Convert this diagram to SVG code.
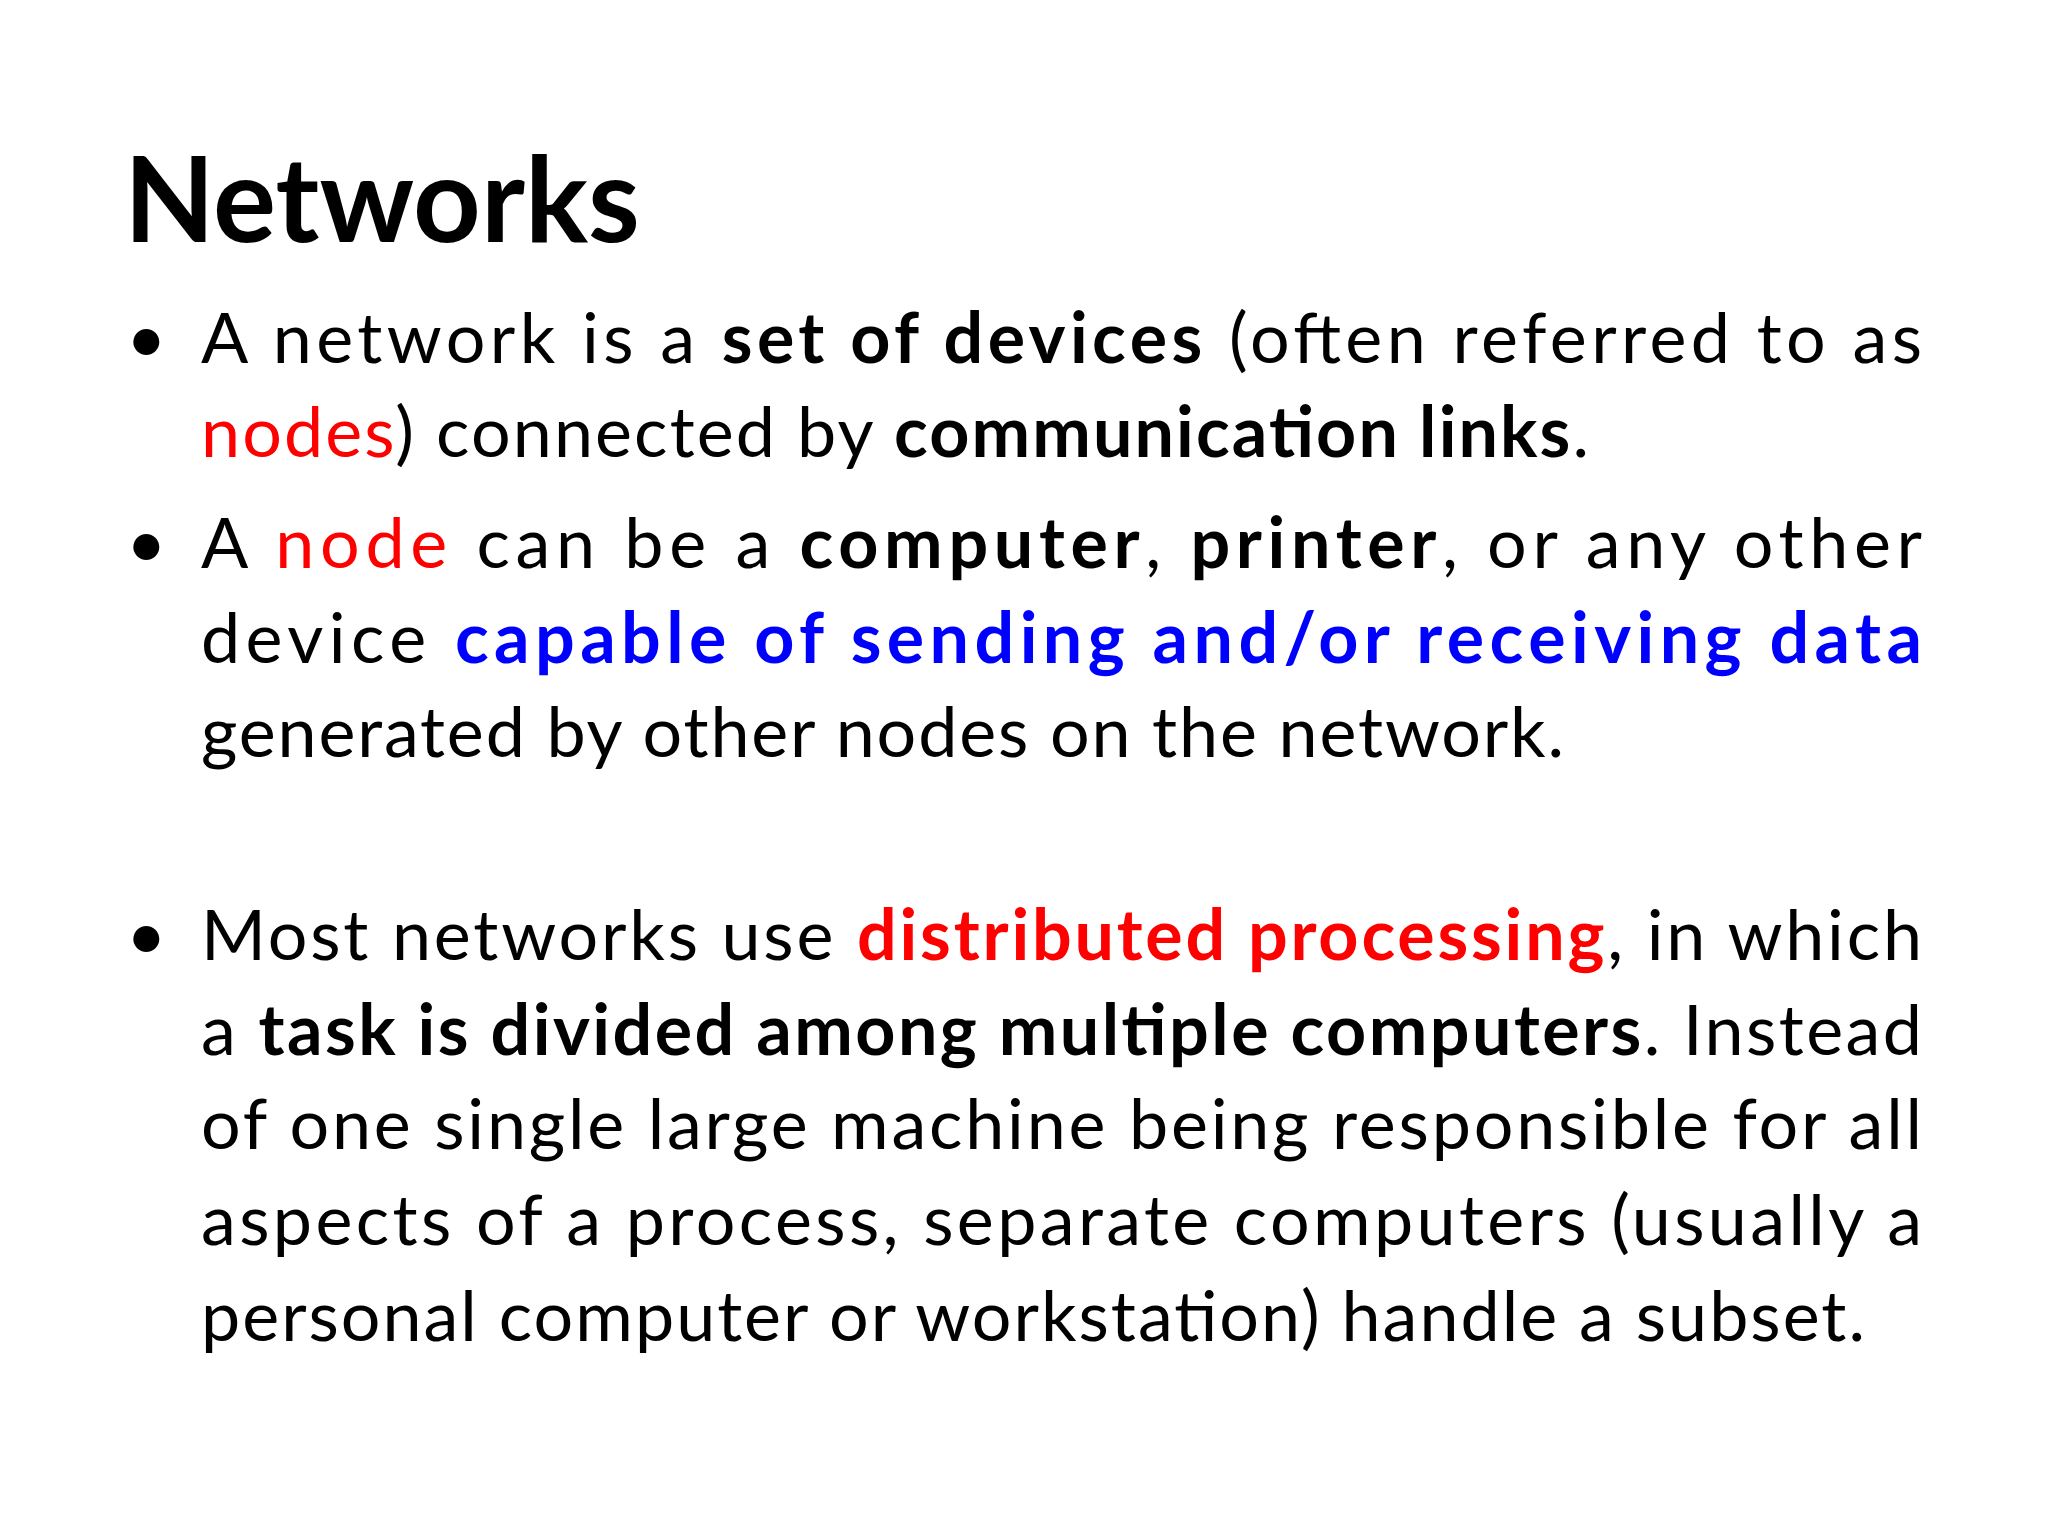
<svg xmlns="http://www.w3.org/2000/svg" width="2048" height="1536" viewBox="0 0 2048 1536">
<style>
text{font-family:Lato,"Open Sans","DejaVu Sans",sans-serif;fill:#000}
.t{font-size:118px;font-weight:bold}
.b{font-size:70px}
.k{font-weight:bold}
.r{fill:#FF0000}
.u{fill:#0000FF;font-weight:bold}
</style>
<rect width="2048" height="1536" fill="#fff"/>
<g id="title"><text class="t" x="124" y="242">Networks</text></g>
<g id="bullet1">
<text class="b" x="126" y="363">•</text>
<text class="b" x="201" y="363" textLength="1721" lengthAdjust="spacing">A network is a <tspan class="k">set of devices</tspan> (often referred to as</text>
<text class="b" x="201" y="457" textLength="1388" lengthAdjust="spacing"><tspan class="r">nodes</tspan>) connected by <tspan class="k">communication links</tspan>.</text>
</g>
<g id="bullet2">
<text class="b" x="126" y="568">•</text>
<text class="b" x="201" y="568" textLength="1721" lengthAdjust="spacing">A <tspan class="r">node</tspan> can be a <tspan class="k">computer</tspan>, <tspan class="k">printer</tspan>, or any other</text>
<text class="b" x="201" y="663" textLength="1721" lengthAdjust="spacing">device <tspan class="u">capable of sending and/or receiving data</tspan></text>
<text class="b" x="201" y="757" textLength="1363" lengthAdjust="spacing">generated by other nodes on the network.</text>
</g>
<g id="bullet3">
<text class="b" x="126" y="960">•</text>
<text class="b" x="201" y="960" textLength="1721" lengthAdjust="spacing">Most networks use <tspan class="r k">distributed processing</tspan>, in which</text>
<text class="b" x="201" y="1055" textLength="1721" lengthAdjust="spacing">a <tspan class="k">task is divided among multiple computers</tspan>. Instead</text>
<text class="b" x="201" y="1149" textLength="1721" lengthAdjust="spacing">of one single large machine being responsible for all</text>
<text class="b" x="201" y="1245" textLength="1721" lengthAdjust="spacing">aspects of a process, separate computers (usually a</text>
<text class="b" x="201" y="1341" textLength="1664" lengthAdjust="spacing">personal computer or workstation) handle a subset.</text>
</g>
</svg>
